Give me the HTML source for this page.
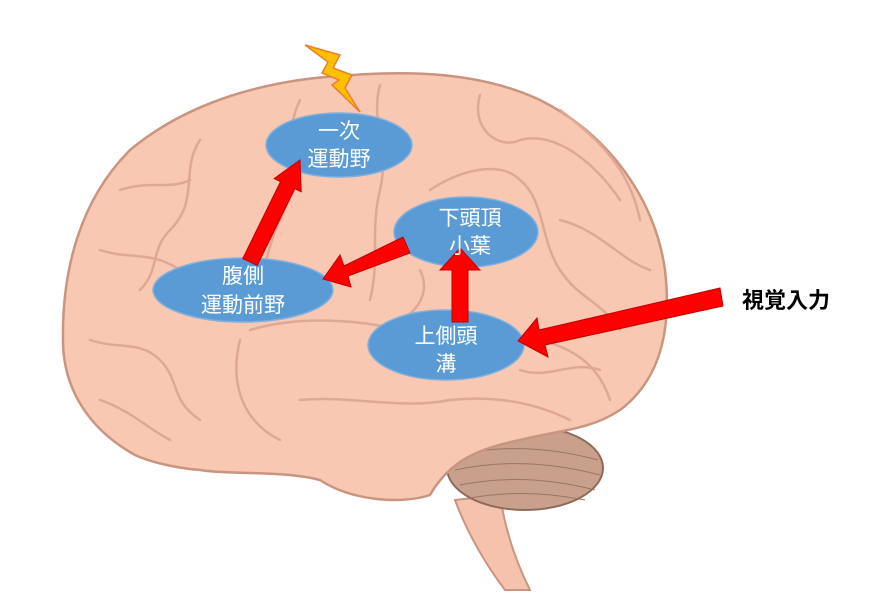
<!DOCTYPE html>
<html><head><meta charset="utf-8"><style>
html,body{margin:0;padding:0;background:#fff;width:883px;height:605px;overflow:hidden}
svg{display:block}
.t{font-family:"Liberation Sans","Noto Sans CJK JP",sans-serif;fill:#fff;font-size:21px;text-anchor:middle}
</style></head><body>
<svg width="883" height="605" viewBox="0 0 883 605">
<path d="M455 500 C470 540 490 570 505 590 L530 590 C515 560 505 530 500 495 Z" fill="#f5c3ad" stroke="#c99580" stroke-width="2"/>
<ellipse cx="525" cy="468" rx="78" ry="42" fill="#c9a08c" stroke="#8e6a5a" stroke-width="2"/>
<g stroke="#9a7565" stroke-width="1" fill="none">
<path d="M455 455 Q525 440 598 460"/><path d="M455 470 Q525 455 600 475"/><path d="M460 485 Q525 472 595 490"/><path d="M470 498 Q525 488 585 500"/>
</g>
<path d="M135 455 C90 430 63 390 63 340 C62 270 80 200 130 150 C190 100 270 80 340 76 C410 70 480 72 540 100 C610 135 655 200 665 270 C672 330 660 380 620 410 C590 430 560 430 520 440 C480 448 450 460 430 495 C400 505 350 500 320 480 C280 470 230 475 200 470 C175 468 150 462 135 455 Z" fill="#f8c8b3" stroke="#c99580" stroke-width="2.5"/>
<g fill="none" stroke="#dea895" stroke-width="2.5" stroke-linecap="round">
<path d="M250 330 C300 315 360 320 400 330 C440 340 500 330 540 340 C580 350 600 370 610 400"/>
<path d="M240 340 C230 380 240 420 280 440"/>
<path d="M300 400 C350 395 400 410 450 400 C500 395 540 405 570 420"/>
<path d="M380 85 C370 120 390 150 380 190 C370 230 380 260 370 300"/>
<path d="M300 100 C280 140 300 180 280 220 C265 250 270 270 250 280"/>
<path d="M200 140 C180 170 200 200 170 230 C150 250 160 270 140 290"/>
<path d="M100 250 C130 260 150 250 180 270"/>
<path d="M90 340 C120 350 140 340 160 360 C180 380 170 400 200 420"/>
<path d="M430 190 C460 170 500 160 520 180 C545 200 540 240 560 270 C580 300 600 300 620 330"/>
<path d="M480 95 C470 130 500 150 520 140 C560 130 600 170 620 200"/>
<path d="M560 220 C600 230 620 260 650 270"/>
<path d="M420 270 C430 290 420 310 400 320"/>
<path d="M120 190 C150 180 170 190 190 180"/>
<path d="M520 370 C550 380 570 360 600 370"/>
<path d="M100 400 C130 410 150 430 170 440"/>
<path d="M560 110 C600 140 630 170 640 220"/>
</g>
<polygon points="305,45 340,55 333,68 352,75 345,88 360,112 332,85 339,80 322,73 328,62" fill="#ffc000" stroke="#ed7d31" stroke-width="1.5"/>
<g fill="#5b9bd5" stroke="#7fb0de" stroke-width="1.5">
<ellipse cx="339" cy="145" rx="73" ry="32"/>
<ellipse cx="466" cy="232" rx="72" ry="35"/>
<ellipse cx="243" cy="290" rx="90" ry="32"/>
<ellipse cx="446" cy="345" rx="78" ry="35"/>
</g>
<g fill="#ff0000" stroke="#c00000" stroke-width="1">
<polygon points="242.8,258.5 280.5,181.7 274.2,178.6 300,160 301.2,191.8 294.9,188.7 257.2,265.5"/>
<polygon points="403,237 410,253 348,276 351,287 323,279 340,255 344,266"/>
<polygon points="452,322 468,322 468,270 480,270 460,248 440,270 452,270"/>
<polygon points="720,288 723,306 545,345 548,357 518,341 537,318 539,330"/>
</g>
<text class="t" x="339" y="138">一次</text>
<text class="t" x="339" y="166">運動野</text>
<text class="t" x="470" y="225">下頭頂</text>
<text class="t" x="470" y="253">小葉</text>
<text class="t" x="243" y="283">腹側</text>
<text class="t" x="243" y="312">運動前野</text>
<text class="t" x="446" y="343">上側頭</text>
<text class="t" x="446" y="371">溝</text>
<text x="742" y="308" style="font-family:'Liberation Sans','Noto Sans CJK JP',sans-serif;font-weight:bold;font-size:22px;fill:#000">視覚入力</text>
</svg>
</body></html>
